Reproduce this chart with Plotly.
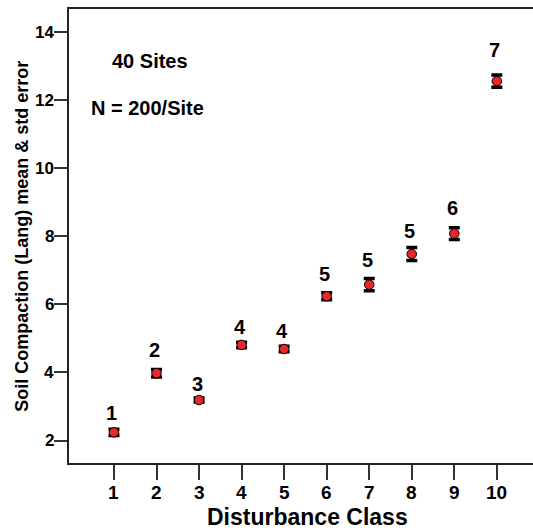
import plotly.graph_objects as go

# Mean soil compaction (Lang) per disturbance class, with standard errors
disturbance_class = [1, 2, 3, 4, 5, 6, 7, 8, 9, 10]
mean_compaction = [2.24, 3.98, 3.19, 4.81, 4.69, 6.24, 6.58, 7.48, 8.08, 12.56]
std_error = [0.09, 0.11, 0.06, 0.08, 0.08, 0.10, 0.18, 0.19, 0.17, 0.18]

# Count labels written above each class and the height they sit at
count_labels = ["1", "2", "3", "4", "4", "5", "5", "5", "6", "7"]
count_label_y = [2.80, 4.65, 3.67, 5.33, 5.23, 6.90, 7.30, 8.17, 8.82, 13.49]

x_ticks = [1, 2, 3, 4, 5, 6, 7, 8, 9, 10]
y_ticks = [2, 4, 6, 8, 10, 12, 14]

FONT = "Liberation Sans, Arial, sans-serif"


def bold(size):
    return dict(family=FONT, size=size, color="black", weight="bold")


fig = go.Figure()
fig.add_trace(go.Scatter(
    x=disturbance_class,
    y=mean_compaction,
    mode="markers",
    marker=dict(size=9.5, color="#e8262b", line=dict(color="black", width=1)),
    error_y=dict(type="data", array=std_error, color="black", thickness=3.5, width=5.5),
    showlegend=False,
    hoverinfo="x+y",
))

annotations = []
for cx, ly, lab in zip(disturbance_class, count_label_y, count_labels):
    annotations.append(dict(
        x=cx, y=ly, xref="x", yref="y", text=lab, showarrow=False,
        xshift=-2, xanchor="center", yanchor="middle", font=bold(20),
    ))

# tick labels placed by hand so they sit tight under the long tick marks
for tv in x_ticks:
    annotations.append(dict(
        x=tv, y=-0.0639, xref="x", yref="paper", text=str(tv), showarrow=False,
        xanchor="center", yanchor="middle", borderpad=0, font=bold(19),
    ))
for tv in y_ticks:
    annotations.append(dict(
        x=-0.030, y=tv, xref="paper", yref="y", text=str(tv), showarrow=False,
        xanchor="right", yanchor="middle", borderpad=0, font=bold(17),
    ))

annotations += [
    dict(x=1.85, y=13.16, xref="x", yref="y", text="40 Sites", showarrow=False,
         xanchor="center", yanchor="middle", font=bold(20)),
    dict(x=1.78, y=11.77, xref="x", yref="y", text="N = 200/Site", showarrow=False,
         xanchor="center", yanchor="middle", font=bold(20)),
    dict(x=0.514, y=-0.1498, xref="paper", yref="paper", text="Disturbance Class",
         showarrow=False, xanchor="center", yanchor="bottom", borderpad=0,
         font=bold(23)),
    dict(x=-0.102, y=0.5, xref="paper", yref="paper",
         text="Soil Compaction (Lang) mean &amp; std error", textangle=-90,
         showarrow=False, xanchor="center", yanchor="middle", font=bold(18)),
]

fig.update_layout(
    width=533, height=531,
    margin=dict(l=69, r=0, t=9, b=68),
    paper_bgcolor="white", plot_bgcolor="white",
    annotations=annotations,
    xaxis=dict(
        range=[-0.057, 10.85], tickvals=x_ticks, ticks="outside", ticklen=15,
        tickwidth=1.5, tickcolor="#333", showline=True, linewidth=2,
        linecolor="#222", mirror=True, showgrid=False, zeroline=False,
        showticklabels=False,
    ),
    yaxis=dict(
        range=[1.34, 14.68], tickvals=y_ticks, ticks="outside", ticklen=13,
        tickwidth=1.5, tickcolor="#333", showline=True, linewidth=2,
        linecolor="#222", mirror=False, showgrid=False, zeroline=False,
        showticklabels=False,
    ),
)

fig.write_html("out.html")
